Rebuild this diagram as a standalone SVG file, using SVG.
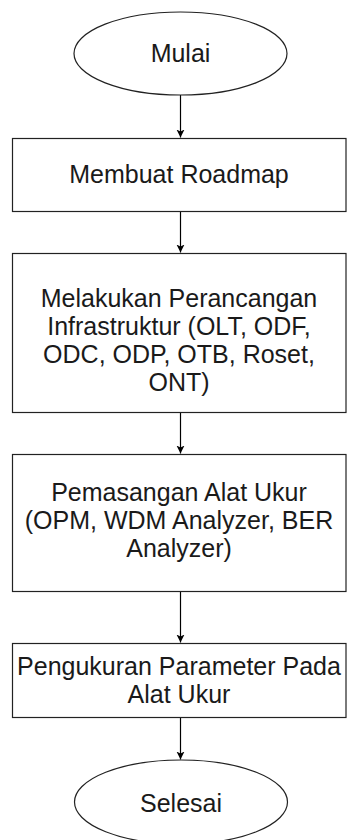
<svg xmlns="http://www.w3.org/2000/svg" width="347" height="840" viewBox="0 0 347 840">
<style>
.shape{fill:#fff;stroke:#222;stroke-width:1.2}
.lbl{font-family:"Liberation Sans",Arial,sans-serif;font-size:25px;fill:#1a1a1a;text-anchor:middle}
.conn{stroke:#000;stroke-width:1.2;fill:none}
</style>
<defs>
<marker id="arr" markerWidth="10" markerHeight="10" refX="8" refY="4" orient="auto" markerUnits="userSpaceOnUse">
<path d="M0,0 L8,4 L0,8 L2,4 Z" fill="#000"/>
</marker>
</defs>
<rect width="347" height="840" fill="#fff"/>
<g id="connectors">
<line class="conn" x1="180.5" y1="95" x2="180.5" y2="137.5" marker-end="url(#arr)"/>
<line class="conn" x1="180.5" y1="211.5" x2="180.5" y2="252.5" marker-end="url(#arr)"/>
<line class="conn" x1="180.5" y1="412.5" x2="180.5" y2="453.5" marker-end="url(#arr)"/>
<line class="conn" x1="180.5" y1="591.5" x2="180.5" y2="642.5" marker-end="url(#arr)"/>
<line class="conn" x1="180.5" y1="717.5" x2="180.5" y2="759.5" marker-end="url(#arr)"/>
</g>
<g id="mulai">
<ellipse class="shape" cx="180.5" cy="53.5" rx="106.5" ry="41.5"/>
<text class="lbl" x="180.5" y="62">Mulai</text>
</g>
<g id="roadmap">
<rect class="shape" x="12.5" y="138.5" width="333.5" height="73"/>
<text class="lbl" x="179" y="183">Membuat Roadmap</text>
</g>
<g id="perancangan">
<rect class="shape" x="12.5" y="253.5" width="333.5" height="159"/>
<text class="lbl" x="179" y="307">Melakukan Perancangan</text>
<text class="lbl" x="179" y="335">Infrastruktur (OLT, ODF,</text>
<text class="lbl" x="179" y="363">ODC, ODP, OTB, Roset,</text>
<text class="lbl" x="179" y="391">ONT)</text>
</g>
<g id="pemasangan">
<rect class="shape" x="12.5" y="454.5" width="333.5" height="137"/>
<text class="lbl" x="179" y="501">Pemasangan Alat Ukur</text>
<text class="lbl" x="179" y="529">(OPM, WDM Analyzer, BER</text>
<text class="lbl" x="179" y="557">Analyzer)</text>
</g>
<g id="pengukuran">
<rect class="shape" x="12.5" y="643.5" width="333.5" height="74"/>
<text class="lbl" x="179" y="674.5">Pengukuran Parameter Pada</text>
<text class="lbl" x="179" y="702.5">Alat Ukur</text>
</g>
<g id="selesai">
<ellipse class="shape" cx="181" cy="802" rx="106.5" ry="42"/>
<text class="lbl" x="181" y="812">Selesai</text>
</g>
</svg>
